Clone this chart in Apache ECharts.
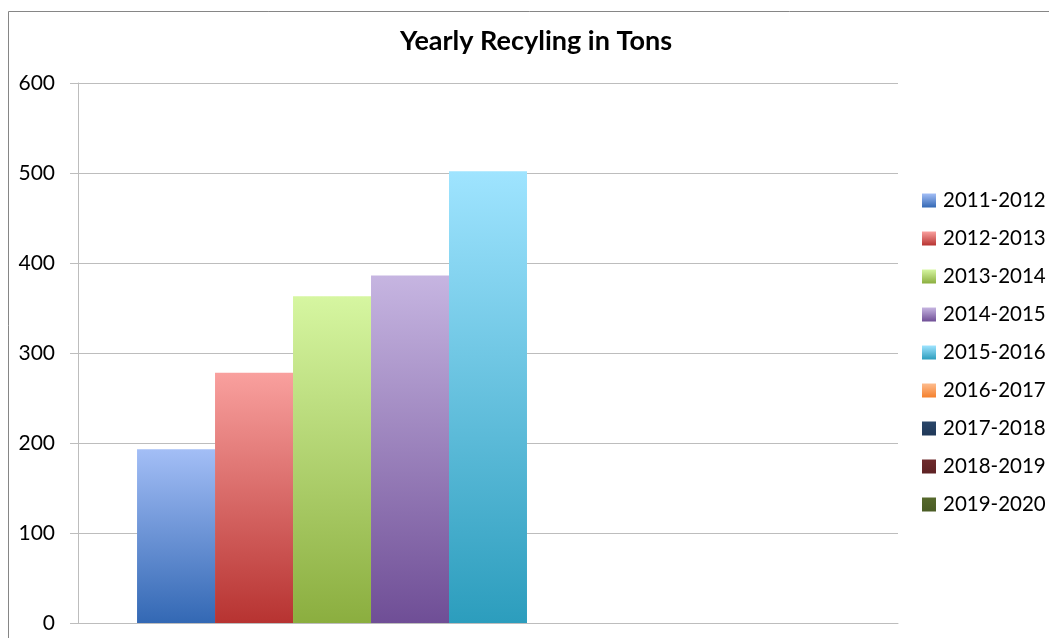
<!DOCTYPE html>
<html><head><meta charset="utf-8">
<script src="https://cdn.jsdelivr.net/npm/echarts@6/dist/echarts.min.js"></script>
<style>html,body{margin:0;padding:0;background:#fff}#c{width:1049px;height:638px}</style>
</head><body><div id="c"></div>
<script>
const categories = ['Recycling'];
const seriesNames = ['2011-2012','2012-2013','2013-2014','2014-2015','2015-2016','2016-2017','2017-2018','2018-2019','2019-2020'];
const seriesValues = [193, 278, 363, 386, 502, null, null, null, null];
const topColors = ['#A3BEF6','#F9A09E','#D6F6A1','#C6B5E1','#9FE4FF','#FDBC8E','#2A4669','#6E2A2C','#56692C'];
const bottomColors = ['#3368B4','#B73331','#8BAE3F','#6F4E96','#2C9DBD','#F5802C','#203858','#5E2224','#4A5C25'];
const yTicks = [0,100,200,300,400,500,600];
const titleText = 'Yearly Recyling in Tons';

const font = 'Lato';
const series = seriesNames.map((name, i) => ({
  name: name,
  type: 'bar',
  barGap: '0%',
  barCategoryGap: '14.4%',
  data: [seriesValues[i] === null ? '-' : seriesValues[i]],
  itemStyle: {
    color: new echarts.graphic.LinearGradient(0, 0, 0, 1, [
      {offset: 0, color: topColors[i]},
      {offset: 1, color: bottomColors[i]}
    ])
  },
  emphasis: {disabled: true}
}));

const chart = echarts.init(document.getElementById('c'), null, {renderer: 'canvas'});
chart.setOption({
  animation: false,
  backgroundColor: '#ffffff',
  title: {
    text: titleText,
    left: 536, top: 28, textAlign: 'center', padding: 0,
    textStyle: {fontFamily: font, fontWeight: 'bold', fontSize: 27, color: '#000'}
  },
  graphic: [{
    type: 'rect', silent: true, z: -1,
    shape: {x: 8.5, y: 11.5, width: 1100, height: 700},
    style: {fill: 'none', stroke: '#868686', lineWidth: 1}
  }],
  legend: {
    orient: 'vertical',
    left: 922, top: 190, padding: 0,
    itemWidth: 14, itemHeight: 14, itemGap: 17,
    icon: 'rect',
    textStyle: {fontFamily: font, fontSize: 20.5, color: '#000', lineHeight: 21, padding: [0,0,0,2]},
    data: seriesNames
  },
  grid: {left: 78, right: 151, top: 83, bottom: 15, containLabel: false},
  xAxis: {
    type: 'category',
    data: categories,
    axisLine: {lineStyle: {color: '#BDBDBD', width: 1}},
    axisTick: {show: false},
    axisLabel: {show: false}
  },
  yAxis: {
    type: 'value',
    min: yTicks[0], max: yTicks[yTicks.length - 1], interval: 100,
    axisLine: {show: true, lineStyle: {color: '#BDBDBD', width: 1}},
    axisTick: {show: true, length: 8, lineStyle: {color: '#BDBDBD'}},
    splitLine: {lineStyle: {color: '#BDBDBD', width: 1}},
    axisLabel: {fontFamily: font, fontSize: 21, color: '#000', margin: 23}
  },
  series: series
});
</script></body></html>
